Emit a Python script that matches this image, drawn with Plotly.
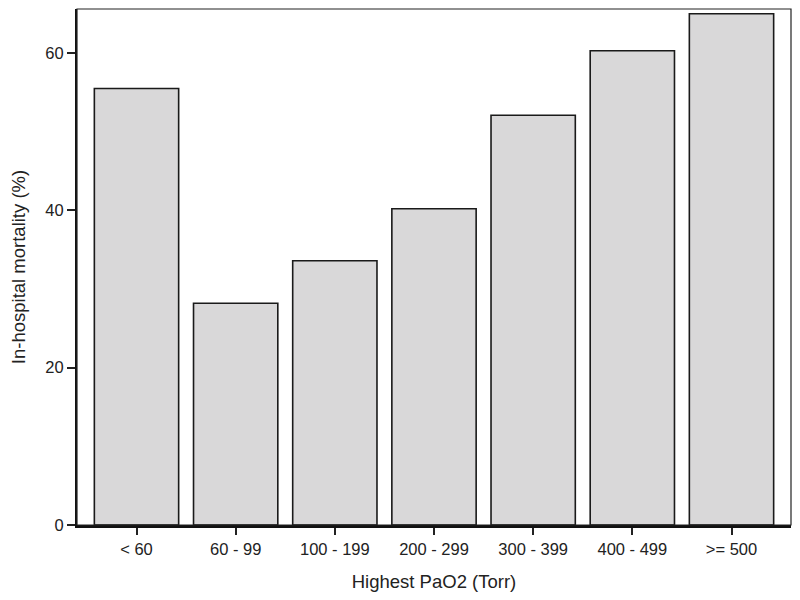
import plotly.graph_objects as go

categories = ["< 60", "60 - 99", "100 - 199", "200 - 299", "300 - 399", "400 - 499", ">= 500"]
mortality = [55.5, 28.2, 33.6, 40.2, 52.1, 60.3, 65.0]
y_ticks = [0, 20, 40, 60]

font = "Liberation Sans, Arial, sans-serif"

fig = go.Figure(go.Bar(
    x=list(range(len(categories))), y=mortality, width=0.85,
    marker=dict(color="#d9d8d9", line=dict(color="#1a1a1a", width=1.6)),
))

# page body has an 8px margin, so the figure is sized to sit inside the 800x600 window
fig.update_layout(
    width=784, height=584, margin=dict(l=69, r=1, t=1, b=67),
    plot_bgcolor="white", paper_bgcolor="white", showlegend=False,
    font=dict(family=font, size=16.5, color="#222"),
    xaxis=dict(range=[-0.6, 6.6], tickmode="array", tickvals=list(range(len(categories))),
               ticktext=categories, showgrid=False, zeroline=False, automargin=False,
               showline=True, linecolor="#111", linewidth=3,
               ticks="outside", ticklen=7, tickwidth=1.5, tickcolor="#222",
               title=dict(text="Highest PaO2 (Torr)", font=dict(size=18.5), standoff=19)),
    yaxis=dict(range=[0, 65.6], tickvals=y_ticks, showgrid=False, zeroline=False, automargin=False,
               showline=True, linecolor="#111", linewidth=2,
               ticks="outside", ticklen=8, tickwidth=1.5, tickcolor="#222",
               title=dict(text="In-hospital mortality (%)", font=dict(size=18.5), standoff=19)),
    shapes=[dict(type="rect", xref="paper", yref="paper", x0=0, x1=1, y0=0, y1=1,
                 line=dict(color="#222", width=1.2), layer="above")],
)

fig.write_html("out.html")
